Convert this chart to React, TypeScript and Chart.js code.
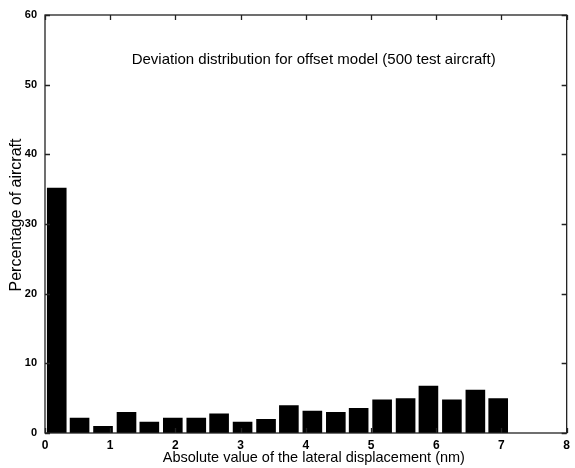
import React, { useEffect, useRef } from "react";
import { Chart, registerables } from "chart.js";

Chart.register(...registerables);

// Histogram bin centres (nm) and percentage of aircraft in each bin
const binCenters = [0.18, 0.53, 0.89, 1.25, 1.6, 1.96, 2.32, 2.67, 3.03, 3.39, 3.74, 4.1, 4.46, 4.81, 5.17, 5.53, 5.88, 6.24, 6.6, 6.95];
const percentages = [35.2, 2.2, 1.0, 3.0, 1.6, 2.2, 2.2, 2.8, 1.6, 2.0, 4.0, 3.2, 3.0, 3.6, 4.8, 5.0, 6.8, 4.8, 6.2, 5.0];

const xTicks = [0, 1, 2, 3, 4, 5, 6, 7, 8];
const yTicks = [0, 10, 20, 30, 40, 50, 60];

const chartTitle = "Deviation distribution for offset model (500 test aircraft)";
const xTitle = "Absolute value of the lateral displacement (nm)";
const yTitle = "Percentage of aircraft";

const FONT = "'Liberation Sans', Arial, Helvetica, sans-serif";

const framePlugin = {
  id: "matlabFrame",
  afterDatasetsDraw(chart: any) {
    const { ctx, chartArea } = chart;
    const xs = chart.scales.x;
    const ys = chart.scales.y;
    const { left, right, top, bottom } = chartArea;
    ctx.save();
    ctx.strokeStyle = "#222";
    ctx.lineWidth = 1.3;
    ctx.strokeRect(left, top, right - left, bottom - top);
    const tl = 5;
    ctx.beginPath();
    xTicks.forEach((v) => {
      const px = Math.round(xs.getPixelForValue(v)) + 0.5;
      ctx.moveTo(px, bottom);
      ctx.lineTo(px, bottom - tl);
      ctx.moveTo(px, top);
      ctx.lineTo(px, top + tl);
    });
    yTicks.forEach((v) => {
      const py = Math.round(ys.getPixelForValue(v)) + 0.5;
      ctx.moveTo(left, py);
      ctx.lineTo(left + tl, py);
      ctx.moveTo(right, py);
      ctx.lineTo(right - tl, py);
    });
    ctx.stroke();

    ctx.fillStyle = "#000";
    ctx.textAlign = "center";
    ctx.textBaseline = "middle";
    ctx.font = `15px ${FONT}`;
    ctx.fillText(chartTitle, xs.getPixelForValue(4.12), ys.getPixelForValue(53.5));
    ctx.font = `14.5px ${FONT}`;
    ctx.fillText(xTitle, (left + right) / 2 + 8, 458);
    ctx.save();
    ctx.translate(17, 215);
    ctx.rotate(-Math.PI / 2);
    ctx.font = `16px ${FONT}`;
    ctx.fillText(yTitle, 0, 0);
    ctx.restore();
    ctx.restore();
  },
};

export default function App() {
  const canvasRef = useRef<HTMLCanvasElement | null>(null);

  useEffect(() => {
    if (!canvasRef.current) return;
    const chart = new Chart(canvasRef.current, {
      type: "bar",
      data: {
        datasets: [
          {
            label: "Percentage of aircraft",
            data: binCenters.map((x, i) => ({ x, y: percentages[i] })),
            backgroundColor: "#000",
            borderWidth: 0,
            barPercentage: 0.86,
            categoryPercentage: 1,
          },
        ],
      },
      options: {
        animation: false,
        responsive: true,
        maintainAspectRatio: false,
        layout: { padding: { top: 15, right: 1, left: 0, bottom: 0 } },
        plugins: {
          legend: { display: false },
          tooltip: { enabled: false },
          title: { display: false },
        },
        scales: {
          x: {
            type: "linear",
            min: 0,
            max: 8,
            offset: false,
            grid: { display: false, drawTicks: false },
            border: { display: false },
            ticks: {
              stepSize: 1,
              padding: 5,
              color: "#000",
              font: { family: FONT, size: 12, weight: "bold" },
              maxRotation: 0,
            },
            afterFit(scale: any) {
              scale.height = 35;
            },
          },
          y: {
            min: 0,
            max: 60,
            grid: { display: false, drawTicks: false },
            border: { display: false },
            ticks: {
              stepSize: 10,
              padding: 8,
              color: "#000",
              font: { family: FONT, size: 11, weight: "bold" },
            },
            afterFit(scale: any) {
              scale.width = 45;
            },
          },
        },
      },
      plugins: [framePlugin],
    });
    return () => chart.destroy();
  }, []);

  return (
    <div style={{ position: "absolute", left: 0, top: 0, width: 575, height: 468, background: "#fff" }}>
      <canvas ref={canvasRef} />
    </div>
  );
}
